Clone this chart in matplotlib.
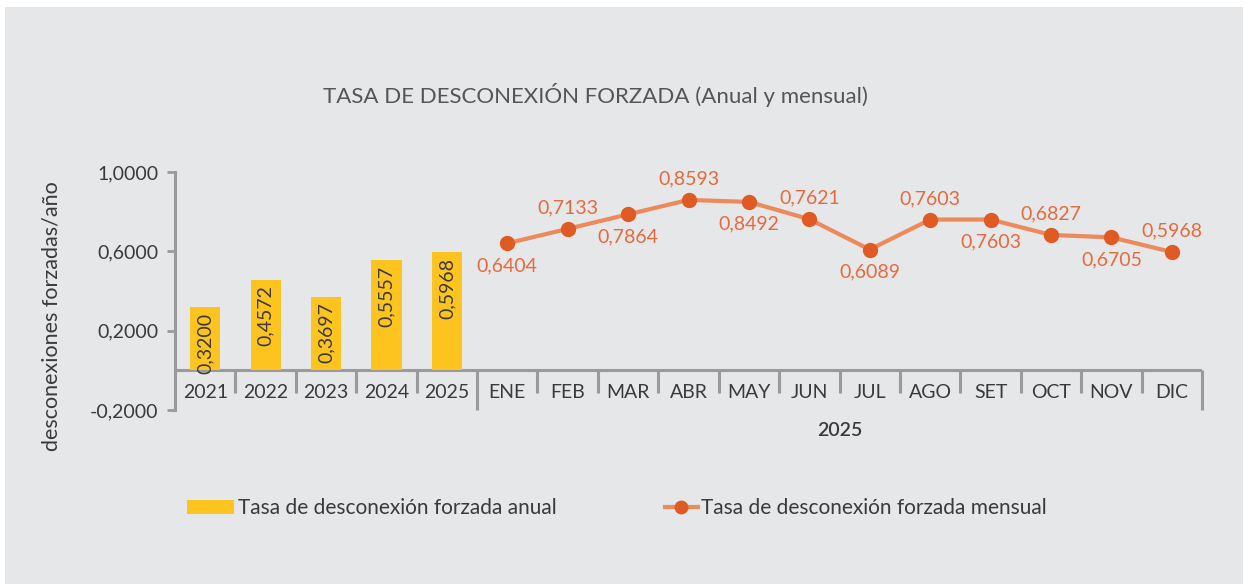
import matplotlib.pyplot as plt
from matplotlib.patches import Rectangle
from matplotlib.lines import Line2D
from matplotlib.patches import Patch

plt.rcParams['font.family'] = ['Lato', 'DejaVu Sans']

# data
years = ['2021', '2022', '2023', '2024', '2025']
annual = [0.3200, 0.4572, 0.3697, 0.5557, 0.5968]
months = ['ENE', 'FEB', 'MAR', 'ABR', 'MAY', 'JUN', 'JUL', 'AGO', 'SET', 'OCT', 'NOV', 'DIC']
monthly = [0.6404, 0.7133, 0.7864, 0.8593, 0.8492, 0.7621, 0.6089, 0.7603, 0.7603, 0.6827, 0.6705, 0.5968]
label_above = [False, True, False, True, False, True, False, True, False, True, False, True]
yticks = [-0.2, 0.2, 0.6, 1.0]

W, H = 1246, 584
fig = plt.figure(figsize=(W / 100, H / 100), dpi=100, facecolor='white')
fig.patches.append(Rectangle((5 / W, 0), (1243 - 5) / W, (H - 7) / H,
                             transform=fig.transFigure, facecolor='#e6e7e8',
                             edgecolor='none', zorder=-5))

ax = fig.add_axes([175 / W, (H - 410) / H, (1202 - 175) / W, (410 - 172) / H])
ax.set_facecolor('none')
ax.set_xlim(-0.5, 16.5)
ax.set_ylim(-0.2, 1.0)

GRAY = '#9a9a9b'
BAR = '#fdc420'
LINE = '#ed8a5c'
MARK = '#e05a24'
LBL = '#e8693d'
TXT = '#3a3a3a'

for s in ['top', 'right', 'bottom']:
    ax.spines[s].set_visible(False)
ax.spines['left'].set_color(GRAY)
ax.spines['left'].set_linewidth(2.2)
ax.axhline(0, color=GRAY, lw=2.2, zorder=1)

ax.set_yticks(yticks)
ax.set_yticklabels([f'{v:.4f}'.replace('.', ',') for v in yticks], fontsize=14, color=TXT)
ax.tick_params(axis='y', length=6, width=2, color=GRAY, pad=6)
ax.set_xticks([])

# bars
xb = list(range(len(years)))
ax.bar(xb, annual, width=0.5, color=BAR, zorder=2)
for x, v in zip(xb, annual):
    ax.annotate(f'{v:.4f}'.replace('.', ','), (x, v), xytext=(0, -4), textcoords='offset points',
                rotation=90, ha='center', va='top', fontsize=14, color=TXT, zorder=3)

# monthly line
xm = list(range(len(years), len(years) + len(months)))
ax.plot(xm, monthly, color=LINE, lw=3, zorder=3)
ax.plot(xm, monthly, 'o', color=MARK, ms=10, zorder=4)
for x, v, up in zip(xm, monthly, label_above):
    ax.annotate(f'{v:.4f}'.replace('.', ','), (x, v), xytext=(0, 15 if up else -16),
                textcoords='offset points', ha='center', va='center',
                fontsize=14, color=LBL, zorder=5)

# category separators and labels
cats = years + months
ticky = -0.113
for i in range(len(cats)):
    b = i + 0.5
    low = -0.2 if b in (4.5, 16.5) else ticky
    ax.plot([b, b], [0, low], color=GRAY, lw=2.2, zorder=1, clip_on=False,
            solid_capstyle='butt')
for i, c in enumerate(cats):
    ax.text(i, ticky, c, ha='center', va='center', fontsize=14, color=TXT)
ax.text((4.5 + 16.5) / 2, -0.305, '2025', ha='center', va='center', fontsize=14,
        color=TXT, fontweight='semibold')

fig.text(52 / W, 1 - 316 / H, 'desconexiones forzadas/año', rotation=90,
         ha='center', va='center', fontsize=15.5, color=TXT)
fig.text(595 / W, 1 - 95 / H, 'TASA DE DESCONEXIÓN FORZADA (Anual y mensual)',
         ha='center', va='center', fontsize=16, color='#555555')

# legends
h1 = Patch(facecolor=BAR, edgecolor='none')
h2 = Line2D([], [], color=LINE, lw=3, marker='o', ms=9, markerfacecolor=MARK,
            markeredgecolor=MARK)
fig.legend([h1], ['Tasa de desconexión forzada anual'], loc='center left',
           bbox_to_anchor=(168 / W, 1 - 508 / H), frameon=False, fontsize=15,
           handlelength=2.25, handleheight=0.65, handletextpad=0.2, labelcolor=TXT)
fig.legend([h2], ['Tasa de desconexión forzada mensual'], loc='center left',
           bbox_to_anchor=(646 / W, 1 - 508 / H), frameon=False, fontsize=15,
           handlelength=1.6, handletextpad=0.15, labelcolor=TXT)

fig.savefig('out.png', dpi=100, facecolor='white')
